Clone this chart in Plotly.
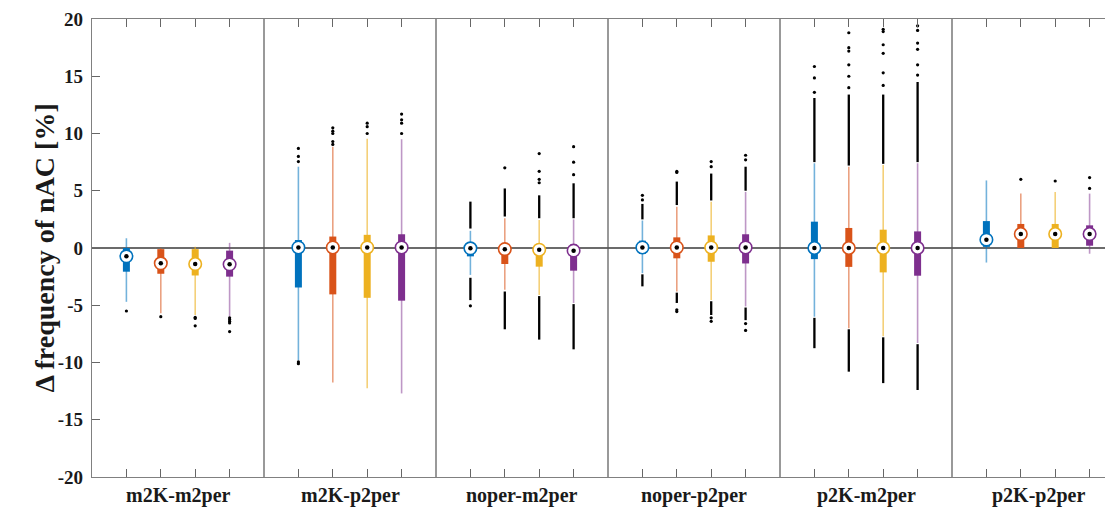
import plotly.graph_objects as go

GROUPS = ["m2K-m2per", "m2K-p2per", "noper-m2per", "noper-p2per", "p2K-m2per", "p2K-p2per"]
COLORS = ["#0072BD", "#D95319", "#EDB120", "#7E2F8E"]
WHISKER_COLORS = ["rgba(0,114,189,0.55)", "rgba(217,83,25,0.55)", "rgba(237,177,32,0.6)", "rgba(126,47,142,0.5)"]
Y_TICKS = [-20, -15, -10, -5, 0, 5, 10, 15, 20]
Y_TICK_TEXT = ["-20", "-15", "-10", "-5", "0", "5", "10", "15", "20"]

# series 1 (blue)
BLUE_LO = [-4.7, -9.8, -2.35, -2.2, -6.0, -1.27]
BLUE_Q1 = [-2.07, -3.45, -0.73, -0.5, -0.97, 0.1]
BLUE_MED = [-0.73, 0.05, -0.03, 0.05, 0.0, 0.73]
BLUE_Q3 = [0.0, 0.7, 0.28, 0.64, 2.3, 2.35]
BLUE_HI = [0.85, 7.1, 1.5, 2.4, 7.4, 5.9]
BLUE_DENSE = [[], [], [(1.7, 4.05), (-2.6, -4.55)], [(2.5, 3.85), (-2.3, -3.35)], [(7.5, 13.1), (-6.1, -8.75)], []]
BLUE_SPARSE = [[-5.5], [7.55, 8.0, 8.7, -9.95, -10.1], [-5.05], [4.2, 4.6], [13.6, 14.85, 15.85], []]

# series 2 (orange)
ORANGE_LO = [-5.7, -11.75, -3.65, -3.8, -7.0, 0.0]
ORANGE_Q1 = [-2.25, -4.05, -1.4, -0.9, -1.65, 0.0]
ORANGE_MED = [-1.34, 0.05, -0.1, 0.05, 0.0, 1.22]
ORANGE_Q3 = [-0.1, 1.0, 0.3, 0.93, 1.75, 2.1]
ORANGE_HI = [0.0, 8.85, 2.6, 3.6, 7.1, 4.75]
ORANGE_DENSE = [[], [], [(2.75, 5.2), (-3.8, -7.1)], [(3.75, 5.8), (-3.9, -4.8)], [(7.2, 13.4), (-7.1, -10.8)], []]
ORANGE_SPARSE = [[-6.0], [9.05, 9.3, 10.0, 10.2, 10.5], [7.0], [6.6, 6.7, -5.4, -5.55],
                 [14.0, 15.0, 16.0, 17.2, 17.5, 18.8], [6.0]]

# series 3 (yellow)
YELLOW_LO = [-5.85, -12.25, -4.1, -4.55, -7.7, 0.0]
YELLOW_Q1 = [-2.4, -4.35, -1.63, -1.2, -2.13, 0.0]
YELLOW_MED = [-1.4, 0.05, -0.15, 0.05, 0.0, 1.22]
YELLOW_Q3 = [-0.1, 1.15, 0.3, 1.1, 1.6, 2.1]
YELLOW_HI = [0.1, 9.55, 2.45, 4.05, 7.25, 4.9]
YELLOW_DENSE = [[], [], [(2.6, 4.6), (-4.2, -8.0)], [(4.15, 6.5), (-4.65, -5.85)], [(7.35, 13.4), (-7.8, -11.8)], []]
YELLOW_SPARSE = [[-6.05, -6.15, -6.8], [10.0, 10.6, 10.9], [5.7, 6.0, 6.7, 8.25], [7.1, 7.55, -6.1, -6.4],
                 [14.2, 15.3, 17.0, 17.75, 18.9, 19.1], [5.85]]

# series 4 (purple)
PURPLE_LO = [-6.0, -12.7, -4.8, -5.1, -8.3, -0.5]
PURPLE_Q1 = [-2.5, -4.6, -1.98, -1.35, -2.42, 0.2]
PURPLE_MED = [-1.43, 0.05, -0.23, 0.05, 0.0, 1.22]
PURPLE_Q3 = [-0.23, 1.2, 0.3, 1.2, 1.45, 1.98]
PURPLE_HI = [0.45, 9.5, 2.5, 4.9, 7.4, 4.75]
PURPLE_DENSE = [[], [], [(2.6, 5.65), (-4.9, -8.85)], [(5.0, 7.1), (-5.2, -6.3)], [(7.5, 14.5), (-8.4, -12.4)], []]
PURPLE_SPARSE = [[-6.1, -6.25, -6.4, -6.55, -7.3], [10.0, 10.9, 11.2, 11.7], [6.4, 7.5, 8.85], [7.7, 8.1, -6.6, -7.2],
                 [15.1, 16.0, 17.35, 17.9, 19.0, 19.4], [5.2, 6.15]]

SERIES = [
    (BLUE_LO, BLUE_Q1, BLUE_MED, BLUE_Q3, BLUE_HI, BLUE_DENSE, BLUE_SPARSE),
    (ORANGE_LO, ORANGE_Q1, ORANGE_MED, ORANGE_Q3, ORANGE_HI, ORANGE_DENSE, ORANGE_SPARSE),
    (YELLOW_LO, YELLOW_Q1, YELLOW_MED, YELLOW_Q3, YELLOW_HI, YELLOW_DENSE, YELLOW_SPARSE),
    (PURPLE_LO, PURPLE_Q1, PURPLE_MED, PURPLE_Q3, PURPLE_HI, PURPLE_DENSE, PURPLE_SPARSE),
]

NG = len(GROUPS)
NS = len(SERIES)
GW = NS + 1  # group width in x units

FONT = "Liberation Serif, Times New Roman, Times, serif"


def xpos(g, s):
    return GW * g + s + 1


fig = go.Figure()

whisker_traces, box_traces, dense_x, dense_y, sp_x, sp_y, med_traces = [], [], [], [], [], [], []
for s, (lo, q1, med, q3, hi, dense, sparse) in enumerate(SERIES):
    wx, wy, bx, by, mx, my = [], [], [], [], [], []
    for g in range(NG):
        x = xpos(g, s)
        wx += [x, x, None]
        wy += [lo[g], hi[g], None]
        bx += [x, x, None]
        by += [q1[g], q3[g], None]
        mx.append(x)
        my.append(med[g])
        for a, b in dense[g]:
            dense_x += [x, x, None]
            dense_y += [a, b, None]
        for v in sparse[g]:
            sp_x.append(x)
            sp_y.append(v)
    whisker_traces.append(go.Scatter(x=wx, y=wy, mode="lines",
                                     line=dict(color=WHISKER_COLORS[s], width=1.6),
                                     hoverinfo="skip", showlegend=False))
    box_traces.append(go.Scatter(x=bx, y=by, mode="lines",
                                 line=dict(color=COLORS[s], width=7),
                                 hoverinfo="skip", showlegend=False))
    med_traces.append(go.Scatter(x=mx, y=my, mode="markers",
                                 marker=dict(symbol="circle", size=12.5, color="white",
                                             line=dict(color=COLORS[s], width=1.6)),
                                 showlegend=False))
    med_traces.append(go.Scatter(x=mx, y=my, mode="markers",
                                 marker=dict(symbol="circle", size=4.5, color="black"),
                                 hoverinfo="skip", showlegend=False))

for t in whisker_traces:
    fig.add_trace(t)
for t in box_traces:
    fig.add_trace(t)
fig.add_trace(go.Scatter(x=dense_x, y=dense_y, mode="lines", line=dict(color="black", width=2.3),
                         hoverinfo="skip", showlegend=False))
fig.add_trace(go.Scatter(x=sp_x, y=sp_y, mode="markers", marker=dict(color="black", size=3.2),
                         hoverinfo="skip", showlegend=False))
for t in med_traces:
    fig.add_trace(t)

# group separators and zero line
for g in range(1, NG):
    fig.add_shape(type="line", x0=GW * g, x1=GW * g, y0=-20, y1=20, xref="x", yref="y",
                  line=dict(color="#555555", width=1.2), layer="below")
fig.add_shape(type="line", x0=0, x1=1, xref="paper", y0=0, y1=0, yref="y",
              line=dict(color="#3a3a3a", width=1.3), layer="below")

# group labels
for g, name in enumerate(GROUPS):
    fig.add_annotation(x=GW * g + GW / 2, y=0, xref="x", yref="paper", yshift=-18,
                       text="<b>" + name + "</b>", showarrow=False, yanchor="middle",
                       font=dict(family=FONT, size=20, color="#1a1a1a"))

fig.add_annotation(x=0, xref="paper", xshift=-66, y=0.5, yref="paper", textangle=-90,
                   text="<b>Δ frequency of nAC [%]</b>", showarrow=False,
                   font=dict(family=FONT, size=28, color="#1a1a1a"))

tick_x = [xpos(g, s) for g in range(NG) for s in range(NS)]
x_max = GW * 6 * (1021 / 1032)

# page body has an 8px margin: compensate so the plot area lands at x 92..1113, y 19..477
fig.update_layout(
    width=1105, height=500,
    margin=dict(l=84, r=0, t=11, b=31),
    plot_bgcolor="white", paper_bgcolor="white",
    xaxis=dict(range=[0, x_max], tickmode="array", tickvals=tick_x, ticktext=[""] * len(tick_x),
               ticks="inside", ticklen=8, tickcolor="#666666", tickwidth=1.2,
               showline=True, linecolor="#808080", linewidth=1.2, mirror="ticks",
               showgrid=False, zeroline=False),
    yaxis=dict(range=[-20, 20], tickmode="array", tickvals=Y_TICKS,
               ticktext=["<b>" + t + "</b>" for t in Y_TICK_TEXT],
               ticks="inside", ticklen=8, tickcolor="#666666", tickwidth=1.2,
               showline=True, linecolor="#808080", linewidth=1.2, mirror=False,
               showgrid=False, zeroline=False, ticklabelstandoff=4,
               tickfont=dict(family=FONT, size=19, color="#1a1a1a")),
)

fig.write_html("out.html")
